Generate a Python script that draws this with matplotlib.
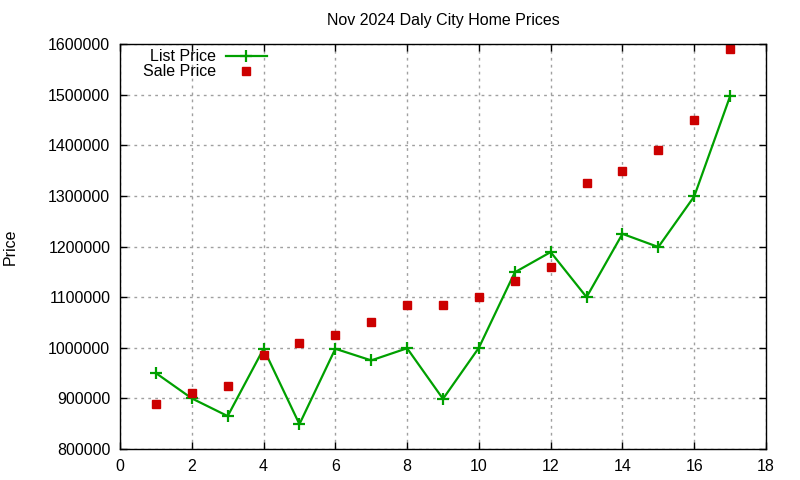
import matplotlib
matplotlib.use('Agg')
import matplotlib.pyplot as plt

plt.rcParams['font.family'] = ['Liberation Sans', 'DejaVu Sans']

months = list(range(1, 18))
list_price = [950000, 900000, 865000, 998000, 849000, 998000, 975000, 999000, 899000,
              1000000, 1149000, 1189000, 1100000, 1225000, 1199000, 1299000, 1497000]
sale_price = [889000, 911000, 925000, 986000, 1010000, 1025000, 1050000, 1084000, 1085000,
              1100000, 1131000, 1160000, 1325000, 1350000, 1390000, 1450000, 1590000]
x_ticks = list(range(0, 19, 2))
y_ticks = list(range(800000, 1600001, 100000))

fig = plt.figure(figsize=(8, 4.8), dpi=100)
ax = fig.add_axes([0.15, 0.0646, 0.8075, 0.8437])

ax.plot(months, list_price, color='#00a000', lw=1.6, marker='+', ms=8, mew=1.6,
        label='List Price')
ax.plot(months, sale_price, ls='none', color='#cc0000', marker='s', ms=6.2,
        label='Sale Price')

ax.set_xlim(0, 18)
ax.set_ylim(800000, 1600000)
ax.set_xticks(x_ticks)
ax.set_yticks(y_ticks)
ax.ticklabel_format(style='plain', useOffset=False)
ax.tick_params(direction='in', top=True, right=True, labelsize=11.5, length=5,
               width=1, pad=7)
ax.grid(True, color='#a0a0a0', ls=(0, (2, 3)), lw=1)
for s in ax.spines.values():
    s.set_linewidth(1)

ax.set_title('Nov 2024 Daly City Home Prices', fontsize=11.5, pad=14)
ax.set_ylabel('Price', fontsize=11.5, labelpad=22)

ax.legend(loc='upper right', bbox_to_anchor=(0.245, 1.015), frameon=False,
          markerfirst=False, fontsize=11.5, handlelength=2.6, labelspacing=0.0,
          borderpad=0.2, handletextpad=0.6)

fig.savefig('out.png', dpi=100)
